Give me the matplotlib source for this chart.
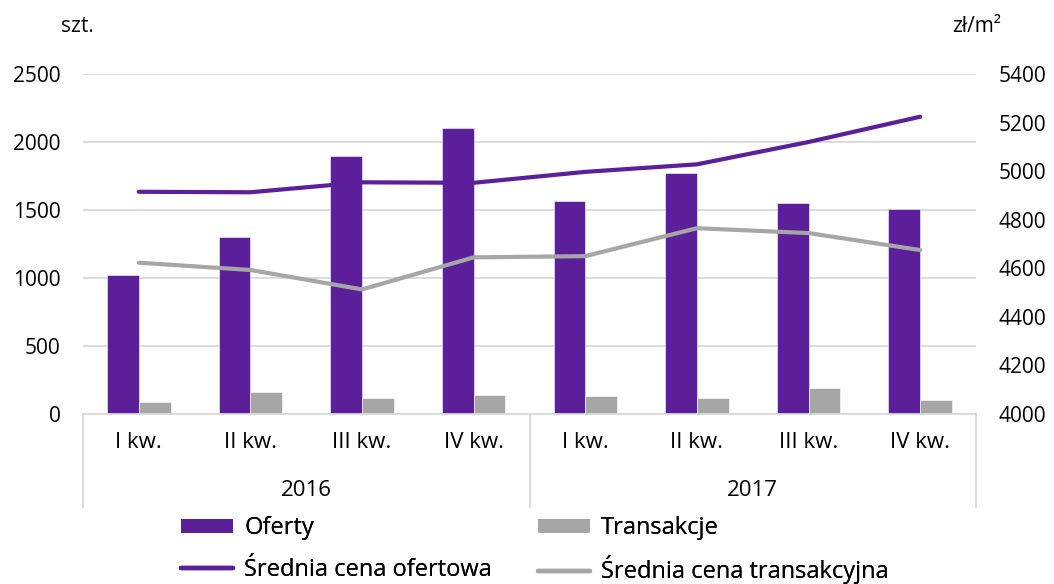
import matplotlib
matplotlib.use("Agg")
import matplotlib.pyplot as plt
from matplotlib.patches import Patch
from matplotlib.lines import Line2D
import numpy as np

plt.rcParams["font.family"] = ["Open Sans", "DejaVu Sans"]

quarters = ["I kw.", "II kw.", "III kw.", "IV kw.", "I kw.", "II kw.", "III kw.", "IV kw."]
years = ["2016", "2017"]
oferty = [1020, 1300, 1895, 2100, 1565, 1770, 1550, 1510]
transakcje = [85, 160, 120, 140, 130, 120, 190, 105]
cena_ofertowa = [4915, 4913, 4954, 4952, 4997, 5028, 5120, 5224]
cena_transakcyjna = [4623, 4593, 4513, 4645, 4650, 4765, 4745, 4675]

PURPLE = "#5B1F99"
GREY = "#A6A6A6"
GRID = "#D9D9D9"
FS_TICK = 15
FS_CAT = 16
FS_LEG = 17
W, H = 1054, 584

fig = plt.figure(figsize=(W / 100, H / 100), dpi=100)
ax = fig.add_axes([83 / W, 170 / H, 893 / W, 340 / H])

x = np.arange(len(quarters))
w = 0.284
ax.bar(x - w / 2, oferty, width=w, color=PURPLE, edgecolor="white", linewidth=0.4, zorder=2)
ax.bar(x + w / 2, transakcje, width=w, color=GREY, edgecolor="white", linewidth=0.4, zorder=2)

ax.set_xlim(-0.5, len(quarters) - 0.5)
ax.set_ylim(0, 2500)
ax.set_yticks(np.arange(0, 2501, 500))
ax.yaxis.grid(True, color=GRID, linewidth=1.3, zorder=0)
ax.set_axisbelow(True)
for s in ["top", "right", "left"]:
    ax.spines[s].set_visible(False)
ax.spines["bottom"].set_color(GRID)
ax.spines["bottom"].set_linewidth(1.3)
ax.tick_params(axis="y", length=0, labelsize=FS_TICK, pad=16)
ax.set_xticks([])

ax2 = ax.twinx()
ax2.plot(x, cena_ofertowa, color=PURPLE, linewidth=3.0, solid_capstyle="round", solid_joinstyle="round")
ax2.plot(x, cena_transakcyjna, color=GREY, linewidth=3.0, solid_capstyle="round", solid_joinstyle="round")
ax2.set_ylim(4000, 5400)
ax2.set_yticks(np.arange(4000, 5401, 200))
for s in ax2.spines.values():
    s.set_visible(False)
ax2.tick_params(axis="y", length=0, labelsize=FS_TICK, pad=16)

# Two-level category axis
tr = ax.get_xaxis_transform()
for xi, q in zip(x, quarters):
    ax.text(xi, -(443 - 414) / 340, q, transform=tr, ha="center", va="center", fontsize=FS_CAT)
n_per = len(quarters) // len(years)
for k, yr in enumerate(years):
    c = k * n_per + (n_per - 1) / 2
    ax.text(c, -(491 - 414) / 340, yr, transform=tr, ha="center", va="center", fontsize=FS_CAT)
for b in np.arange(0, len(quarters) + 1, n_per) - 0.5:
    ax.plot([b, b], [0, -(507 - 414) / 340], transform=tr, color=GRID, linewidth=1.3, clip_on=False)

fig.text(61 / W, 1 - 27 / H, "szt.", fontsize=FS_TICK, ha="left", va="center")
fig.text(1001 / W, 1 - 27 / H, "zł/m²", fontsize=FS_TICK, ha="right", va="center")

# Legend: one entry per slot, two columns by two rows
entries = [
    (Patch(facecolor=PURPLE, edgecolor="none"), "Oferty", 181, 528),
    (Patch(facecolor=GREY, edgecolor="none"), "Transakcje", 538, 528),
    (Line2D([], [], color=PURPLE, linewidth=3.2, solid_capstyle="round"), "Średnia cena ofertowa", 181, 570),
    (Line2D([], [], color=GREY, linewidth=3.2, solid_capstyle="round"), "Średnia cena transakcyjna", 538, 570),
]
for handle, label, px, py in entries:
    leg = fig.legend([handle], [label], loc="center left", bbox_to_anchor=(px / W, 1 - py / H),
                     frameon=False, fontsize=FS_LEG, handlelength=2.2, handleheight=0.53,
                     handletextpad=0.47, borderaxespad=0, borderpad=0)
    fig.add_artist(leg)

fig.savefig("out.png", dpi=100)
